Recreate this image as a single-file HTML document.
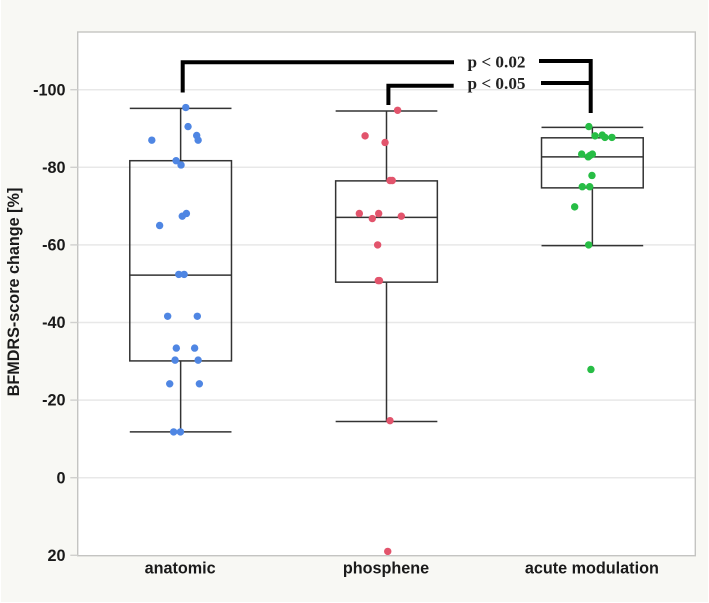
<!DOCTYPE html>
<html lang="en">
<head>
<meta charset="utf-8">
<title>BFMDRS-score change box plot</title>
<style>
html,body{margin:0;padding:0;background:#fff;width:709px;height:603px;overflow:hidden}
svg{display:block;position:absolute;left:0;top:0;filter:blur(0.35px)}
text{font-family:"Liberation Sans",sans-serif;font-weight:bold;fill:#1a1a1a}
.sig{font-family:"Liberation Serif",serif;fill:#222}
</style>
</head>
<body>
<svg id="chart" xmlns="http://www.w3.org/2000/svg" width="709" height="603" viewBox="0 0 709 603">
  <rect x="1" y="0" width="707" height="602" fill="#f8f8f4"/>
  <rect x="77.7" y="32" width="617.6" height="523.7" fill="#ffffff"/>
  <g id="grid"></g>
  <g id="boxes"></g>
  <g id="points"></g>
  <rect x="77.7" y="32" width="617.6" height="523.7" fill="none" stroke="#c4c4c2" stroke-width="1.4"/>
  <g id="ticks"></g>
  <text transform="translate(19,292) rotate(-90)" text-anchor="middle" font-size="16.2">BFMDRS-score change [%]</text>
  <g fill="none" stroke="#000" stroke-linecap="butt">
    <path d="M182.7 92.5V62.3H454" stroke-width="4"/>
    <path d="M539 61H590.7V113" stroke-width="4"/>
    <path d="M388.4 105V85.7H453.7" stroke-width="4"/>
    <path d="M541 83H590" stroke-width="4"/>
  </g>
  <text class="sig" x="496.5" y="67.5" text-anchor="middle" font-size="17.2">p &lt; 0.02</text>
  <text class="sig" x="496.5" y="89" text-anchor="middle" font-size="17.2">p &lt; 0.05</text>
</svg>
<script>
const categories = ['anatomic', 'phosphene', 'acute modulation'];
const yTicks = [-100, -80, -60, -40, -20, 0, 20];
const seriesColors = ['#4f86e3', '#e2546c', '#27bd45'];

const whiskerHigh = [-95.2, -94.5, -90.3];
const quartile3 = [-81.7, -76.5, -87.6];
const medians = [-52.2, -67.1, -82.7];
const quartile1 = [-30.1, -50.4, -74.7];
const whiskerLow = [-11.8, -14.5, -59.8];

const anatomicValues = [-95.4, -90.5, -88.2, -87, -87, -81.7, -80.6, -68.1, -67.4, -65, -52.4, -52.4, -41.6, -41.6, -33.4, -33.4, -30.3, -30.3, -24.2, -24.2, -11.8, -11.8];
const anatomicJitter = [0.025, 0.036, 0.078, 0.085, -0.14, -0.022, 0.002, 0.028, 0.008, -0.102, -0.009, 0.017, -0.063, 0.081, -0.021, 0.068, -0.027, 0.085, -0.053, 0.091, -0.034, -0.001];
const phospheneValues = [-94.7, -88.1, -86.4, -76.6, -76.6, -68.1, -68.1, -66.8, -67.4, -60, -50.8, -50.8, -14.7, 19];
const phospheneJitter = [0.054, -0.104, -0.007, 0.017, 0.028, -0.132, -0.038, -0.069, 0.072, -0.043, -0.04, -0.034, 0.017, 0.006];
const acuteValues = [-90.5, -88.1, -88.3, -87.7, -87.7, -83.4, -83.4, -82.7, -83.1, -77.9, -75, -75, -69.8, -60, -27.9];
const acuteJitter = [-0.017, 0.013, 0.048, 0.061, 0.095, -0.052, 0, -0.02, -0.01, -0.002, -0.049, -0.013, -0.086, -0.018, -0.007];

const plotLeft = 77.7, plotRight = 695.3, zeroY = 477.7, pxPerUnit = 3.88;
const bandWidth = (plotRight - plotLeft) / categories.length;
const boxHalf = bandWidth * 0.247;
const xScale = function (i, j) { return plotLeft + (i + 0.5 + (j || 0)) * bandWidth; };
const yScale = function (v) { return zeroY + v * pxPerUnit; };

const NS = 'http://www.w3.org/2000/svg';
function make(parent, tag, attrs) {
  const el = document.createElementNS(NS, tag);
  Object.keys(attrs).forEach(function (k) { el.setAttribute(k, attrs[k]); });
  parent.appendChild(el);
  return el;
}
const grid = document.getElementById('grid');
const ticks = document.getElementById('ticks');
const boxes = document.getElementById('boxes');
const points = document.getElementById('points');

yTicks.forEach(function (t) {
  if (t !== 20) {
    const g = make(grid, 'line', { x1: plotLeft, x2: plotRight, y1: yScale(t), y2: yScale(t), stroke: '#e8e8e8', 'stroke-width': 1.5 });
    
    
  }
  const m = make(ticks, 'line', { x1: 70.3, x2: plotLeft, y1: yScale(t), y2: yScale(t), stroke: '#d0d0ce', 'stroke-width': 1.4 });
  
  
  const l = make(ticks, 'text', { x: 65.5, y: yScale(t) + 5.6, 'text-anchor': 'end', 'font-size': 16.2 });
  l.textContent = String(t);
  
  
});

categories.forEach(function (c, i) {
  const cx = xScale(i);
  const l = make(ticks, 'text', { x: cx - 0.5, y: 573.3, 'text-anchor': 'middle', 'font-size': 16.2 });
  l.textContent = c;
  
  

  const stroke = { stroke: '#333333', 'stroke-width': 1.5, fill: 'none' };
  const up = make(boxes, 'line', Object.assign({ x1: cx, x2: cx, y1: yScale(whiskerHigh[i]), y2: yScale(quartile3[i]) }, stroke));
  
  
  const dn = make(boxes, 'line', Object.assign({ x1: cx, x2: cx, y1: yScale(quartile1[i]), y2: yScale(whiskerLow[i]) }, stroke));
  
  
  const capH = make(boxes, 'line', Object.assign({ x1: cx - boxHalf, x2: cx + boxHalf, y1: yScale(whiskerHigh[i]), y2: yScale(whiskerHigh[i]) }, stroke));
  
  
  const capL = make(boxes, 'line', Object.assign({ x1: cx - boxHalf, x2: cx + boxHalf, y1: yScale(whiskerLow[i]), y2: yScale(whiskerLow[i]) }, stroke));
  
  
  const box = make(boxes, 'rect', Object.assign({ x: cx - boxHalf, width: boxHalf * 2, y: yScale(quartile3[i]), height: yScale(quartile1[i]) - yScale(quartile3[i]) }, stroke));
  
  
  const med = make(boxes, 'line', Object.assign({ x1: cx - boxHalf, x2: cx + boxHalf, y1: yScale(medians[i]), y2: yScale(medians[i]) }, stroke));
  
  
});

function drawPoints(i, values, jitter) {
  values.forEach(function (v, k) {
    const p = make(points, 'circle', { cx: xScale(i, jitter[k]), cy: yScale(v), r: 3.7, fill: seriesColors[i] });
    
    
  });
}
drawPoints(0, anatomicValues, anatomicJitter);
drawPoints(1, phospheneValues, phospheneJitter);
drawPoints(2, acuteValues, acuteJitter);
</script>
</body>
</html>
